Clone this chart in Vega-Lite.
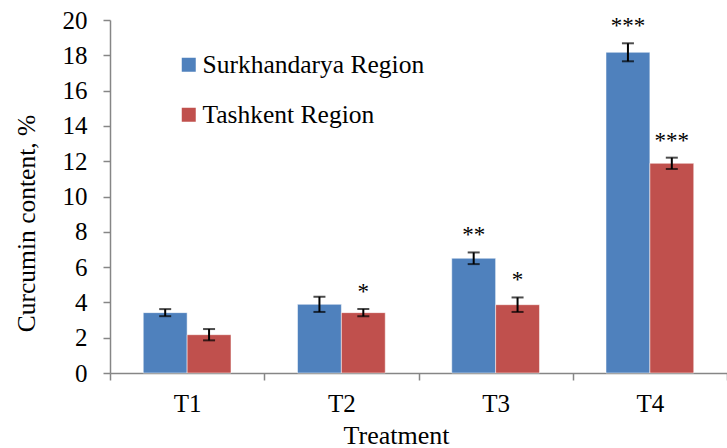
{
  "$schema": "https://vega.github.io/schema/vega-lite/v6.json",
  "width": 617,
  "height": 353,
  "autosize": {"type": "none"},
  "padding": {"left": 110, "top": 20, "right": 0, "bottom": 75},
  "background": "white",
  "config": {
    "font": "Liberation Serif",
    "view": {"stroke": null},
    "axis": {"labelFont": "Liberation Serif", "titleFont": "Liberation Serif", "labelColor": "black", "titleColor": "black", "titleFontWeight": "normal", "domainColor": "#868686", "tickColor": "#868686", "grid": false, "labelOverlap": false, "labelLimit": 0},
    "axisY": {"labelFontSize": 25, "titleFontSize": 25.5, "tickSize": 7, "labelPadding": 16, "domainWidth": 1.5, "tickWidth": 1.5, "titleX": -84, "titleY": 203, "titleAnchor": "middle", "titleBaseline": "middle"}
  },
  "data": {
    "values": [
      {"treatment": "T1", "region": "Surkhandarya Region", "value": 3.42, "err": 0.2, "sig": ""},
      {"treatment": "T1", "region": "Tashkent Region", "value": 2.17, "err": 0.32, "sig": ""},
      {"treatment": "T2", "region": "Surkhandarya Region", "value": 3.89, "err": 0.43, "sig": ""},
      {"treatment": "T2", "region": "Tashkent Region", "value": 3.42, "err": 0.21, "sig": "*"},
      {"treatment": "T3", "region": "Surkhandarya Region", "value": 6.5, "err": 0.33, "sig": "**"},
      {"treatment": "T3", "region": "Tashkent Region", "value": 3.87, "err": 0.41, "sig": "*"},
      {"treatment": "T4", "region": "Surkhandarya Region", "value": 18.17, "err": 0.51, "sig": "***"},
      {"treatment": "T4", "region": "Tashkent Region", "value": 11.88, "err": 0.32, "sig": "***"}
    ]
  },
  "transform": [
    {"calculate": "datum.value - datum.err", "as": "lo"},
    {"calculate": "datum.value + datum.err", "as": "hi"}
  ],
  "encoding": {
    "x": {
      "field": "treatment", "type": "nominal",
      "scale": {"paddingInner": 0, "paddingOuter": 0},
      "axis": {"title": "Treatment", "labelAngle": 0, "labelFontSize": 25, "titleFontSize": 26, "tickBand": "extent", "tickSize": 7, "labelPadding": 11, "domainWidth": 1.5, "tickWidth": 1.5, "titleX": 286, "titleY": 70, "titleBaseline": "alphabetic", "titleAnchor": "middle"}
    },
    "xOffset": {"field": "region", "type": "nominal", "scale": {"paddingInner": 0, "paddingOuter": 0.758}}
  },
  "layer": [
    {
      "mark": {"type": "bar", "stroke": "white", "strokeOpacity": 0.5, "strokeWidth": 1},
      "encoding": {
        "y": {"field": "value", "type": "quantitative", "scale": {"domain": [0, 20]},
          "axis": {"title": "Curcumin content, %", "values": [0, 2, 4, 6, 8, 10, 12, 14, 16, 18, 20]}},
        "color": {"field": "region", "type": "nominal",
          "scale": {"domain": ["Surkhandarya Region", "Tashkent Region"], "range": ["#4F81BD", "#C0504D"]},
          "legend": {"title": null, "orient": "none", "legendX": 66, "legendY": 32, "labelFontSize": 25.5, "labelFont": "Liberation Serif", "labelColor": "black", "labelLimit": 0, "symbolType": "square", "symbolSize": 196, "symbolStrokeWidth": 0, "symbolOpacity": 1, "labelOffset": 1, "rowPadding": 23}}
      }
    },
    {
      "mark": {"type": "rule", "color": "black", "strokeWidth": 2},
      "encoding": {"y": {"field": "lo", "type": "quantitative", "axis": {"title": "Curcumin content, %", "values": [0, 2, 4, 6, 8, 10, 12, 14, 16, 18, 20]}}, "y2": {"field": "hi"}}
    },
    {
      "mark": {"type": "tick", "color": "black", "thickness": 2, "size": 12, "orient": "horizontal"},
      "encoding": {"y": {"field": "lo", "type": "quantitative", "axis": {"title": "Curcumin content, %", "values": [0, 2, 4, 6, 8, 10, 12, 14, 16, 18, 20]}}}
    },
    {
      "mark": {"type": "tick", "color": "black", "thickness": 2, "size": 12, "orient": "horizontal"},
      "encoding": {"y": {"field": "hi", "type": "quantitative", "axis": {"title": "Curcumin content, %", "values": [0, 2, 4, 6, 8, 10, 12, 14, 16, 18, 20]}}}
    },
    {
      "mark": {"type": "text", "fontSize": 23, "font": "Liberation Serif", "color": "black", "baseline": "middle", "dy": -17},
      "encoding": {"y": {"field": "hi", "type": "quantitative", "axis": {"title": "Curcumin content, %", "values": [0, 2, 4, 6, 8, 10, 12, 14, 16, 18, 20]}}, "text": {"field": "sig"}}
    }
  ]
}
